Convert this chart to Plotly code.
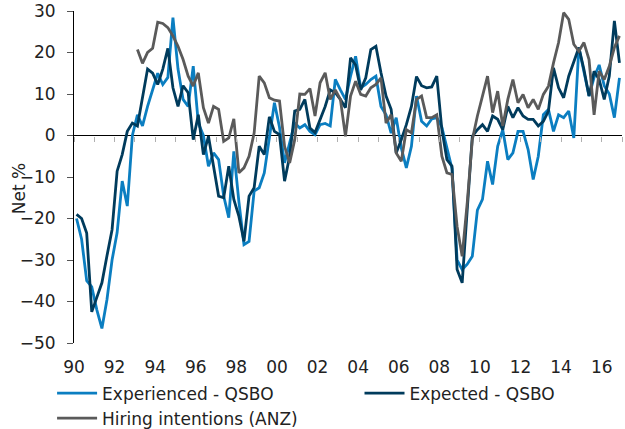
import plotly.graph_objects as go

start_year = 1990.125
quarter = 0.25

experienced = [
    -20, -25, -35, -36.5, -42, -46.5, -39.5, -30, -23.4, -11, -17, 0,
    5, 2.3, 7, 11, 15, 12.3, 14, 28.4, 16, 8.7, 7, 16.7,
    3, 0, -7.4, -4.2, -5.8, -14.6, -19.8, -3.8, -16, -26.3, -25.5, -13.4,
    -12.6, -9, -0.2, 7.9, 2, -6.6, -1.8, 3, 1.8, 2.6, 1, 0.2,
    2.6, 2.9, 2.3, 13.5, 11, 8.7, 14.3, 19.1, 11.5, 12.3, 13.5, 14.3,
    7, 5, 0.6, 4.3, -3, -7.8, -2.6, 9.5, 3.4, 2.3, 4, 4.3,
    2, -3, -8, -30, -32.3, -31, -29.1, -18, -15.4, -6.2, -11.8, -2.6,
    1.4, -5.8, -4.2, 1, 1, -3.4, -10.6, -5, 5, 6.3, 1, 5,
    4.3, 5.9, -0.6, 21.2, 15, 9.5, 14, 17, 12, 10, 4.3, 13.9,
]

expected = [
    -19, -20, -23.5, -42.5, -39, -35.5, -29, -22.7, -8.6, -4.6, 1, 3,
    2.3, 9.5, 16, 15, 12.3, 16, 21, 11.5, 7, 12, 10.3, -1,
    5, -4.6, -0.2, -7.4, -14.6, -15, -7.4, -15.4, -19.5, -25.5, -14.6, -12.6,
    -2.6, -4.6, 4.5, 1, 0.2, -11, -5, 5.9, 6.3, 8.7, 1.8, 0.7,
    3.9, 7, 11, 10.3, 8.7, 6.7, 18.7, 17, 11, 13.9, 20.7, 21.5,
    15.1, 9.5, 6.3, -4.2, -1, 2.6, 7, 14.2, 12, 11.5, 11.7, 14.3,
    1.4, -5.8, -7.4, -32.3, -35.5, -18, -0.2, 1.4, 2.6, 1, 4.7, 3.9,
    1.4, 7, 4.3, 6.7, 4.7, 3.9, 3.9, 2.3, 3.4, 5.9, 16.3, 11.5,
    9.1, 14.3, 17.9, 21.2, 15.9, 9.5, 15.5, 13.5, 8.7, 14.3, 27.6, 17.5,
]

hiring = [None] * 12 + [
    20.7, 17.4, 20, 21, 27.3, 27, 26, 24, 21.5, 18.3, 14.3, 11.9,
    15.1, 6.7, 3, 7, 6.3, -1.4, -0.6, 4, -9, -7.8, -5, 0.6,
    14.3, 12.7, 9.1, 8.5, 8.3, -2.6, -6.6, -1, 10, 9.9, 11.3, 4.7,
    12.7, 15.1, 8.7, 11, 8.7, -0.2, 9.5, 13.1, 9.9, 9.5, 11.5, 12.3,
    13.9, 3, 5, -4.2, -6.2, 1.4, 0.6, 8.7, 9.5, 4.3, 4.3, 5,
    -5, -9, -9.4, -21.9, -29.1, -16.2, -1, 4.7, 9.5, 14.3, 5.5, 10.7,
    2.3, 8.7, 13.5, 7.9, 9.9, 6.7, 8.7, 6.3, 9.9, 11.9, 17.5, 22.4,
    29.6, 28, 22, 20.3, 22.4, 18.3, 5, 15.5, 13.5, 16.7, 21.2, 24,
]

tick_years = list(range(1990, 2017, 2))
tick_labels = [f"{y % 100:02d}" for y in tick_years]
y_title = "Net %"

x = [start_year + quarter * i for i in range(len(experienced))]

FONT = "Verdana, DejaVu Sans, sans-serif"
C_EXP = "#0B7EC1"
C_EXPD = "#003B5C"
C_HIR = "#5A5A5A"
FS = 17

fig = go.Figure()
fig.add_trace(go.Scatter(x=x, y=experienced, mode="lines", name="Experienced - QSBO",
                         line=dict(color=C_EXP, width=2.8), legend="legend"))
fig.add_trace(go.Scatter(x=x, y=expected, mode="lines", name="Expected - QSBO",
                         line=dict(color=C_EXPD, width=2.8), legend="legend2"))
fig.add_trace(go.Scatter(x=x, y=hiring, mode="lines", name="Hiring intentions (ANZ)",
                         line=dict(color=C_HIR, width=2.8), legend="legend"))
# invisible helper trace so the zero-line tick axis is drawn
fig.add_trace(go.Scatter(x=x, y=expected, mode="lines", xaxis="x2", showlegend=False,
                         hoverinfo="skip", line=dict(color="rgba(0,0,0,0)", width=0)))

fig.add_annotation(text=y_title, textangle=-90, xref="paper", yref="paper",
                   x=-0.1, y=0.464, xanchor="center", yanchor="middle",
                   showarrow=False, font=dict(size=FS, family=FONT, color="#222222"))

fig.update_layout(
    width=625, height=429,
    margin=dict(l=74, r=3, t=11, b=86, autoexpand=False),
    paper_bgcolor="white", plot_bgcolor="white",
    font=dict(family=FONT, size=FS, color="#222222"),
    showlegend=True,
    xaxis=dict(range=[1990, 2017], tickvals=tick_years, ticktext=tick_labels,
               showgrid=False, zeroline=False, showline=False, ticks="", automargin=False,
               ticklabelstandoff=12, tickfont=dict(size=FS)),
    xaxis2=dict(range=[1990, 2017], overlaying="x", anchor="free", position=0.625,
                tick0=1990, dtick=1, ticks="outside", ticklen=5, tickcolor="#B0B0B0",
                showticklabels=False, showgrid=False, zeroline=False, showline=False,
                automargin=False),
    yaxis=dict(range=[-50, 30], dtick=10, showgrid=False, zeroline=True, zerolinecolor="black",
               zerolinewidth=1, showline=True, linecolor="black", linewidth=1,
               ticks="outside", ticklen=6, tickcolor="#555555", ticklabelstandoff=8,
               tickfont=dict(size=FS), automargin=False),
    legend=dict(x=-0.04, xanchor="left", y=-0.098, yanchor="top", orientation="v",
                font=dict(size=FS), itemwidth=40, tracegroupgap=0, bgcolor="rgba(0,0,0,0)"),
    legend2=dict(x=0.521, xanchor="left", y=-0.098, yanchor="top", orientation="v",
                 font=dict(size=FS), itemwidth=40, bgcolor="rgba(0,0,0,0)"),
)

fig.write_html("out.html", config={"displayModeBar": False},
               post_script="document.body.style.margin='0px';")
